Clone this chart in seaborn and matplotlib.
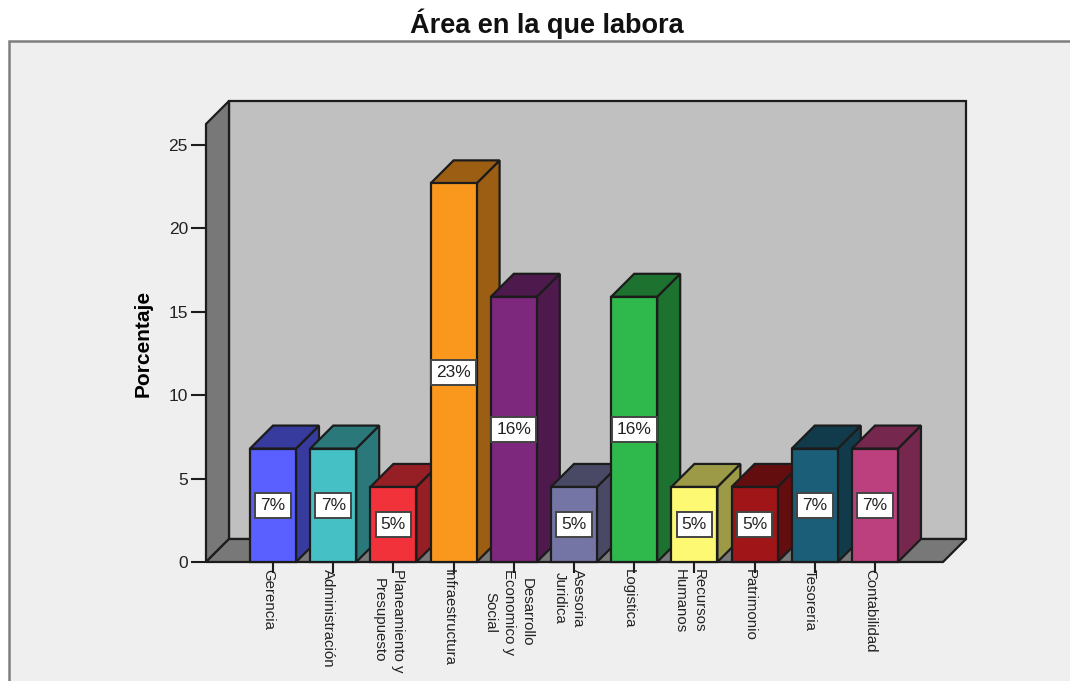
import matplotlib
matplotlib.use("Agg")
import matplotlib.pyplot as plt
import matplotlib.colors as mc
from matplotlib.patches import Polygon, Rectangle
from matplotlib.transforms import ScaledTranslation
import seaborn as sns
import pandas as pd

categories = ["Gerencia", "Administración", "Planeamiento y\nPresupuesto", "Infraestructura",
              "Desarrollo\nEconomico y\nSocial", "Asesoria\nJuridica", "Logistica",
              "Recursos\nHumanos", "Patrimonio", "Tesoreria", "Contabilidad"]
values = [6.8, 6.8, 4.5, 22.7, 15.9, 4.5, 15.9, 4.5, 4.5, 6.8, 6.8]
labels = ["7%", "7%", "5%", "23%", "16%", "5%", "16%", "5%", "5%", "7%", "7%"]
colors = ["#5A5FFF", "#45C1C6", "#F1323A", "#FA981E", "#7D287C", "#7575A5",
          "#2FB84C", "#FDF972", "#A01518", "#1B5E78", "#BC3F7E"]
yticks = [0, 5, 10, 15, 20, 25]
title = "Área en la que labora"
ylabel = "Porcentaje"

W, H = 1070, 681
sns.set_theme(style="white")
plt.rcParams["font.family"] = ["Liberation Sans", "DejaVu Sans"]
fig = plt.figure(figsize=(W / 100, H / 100), dpi=100, facecolor="white")

# frame panel, running off the right and bottom edges
fig.add_artist(Rectangle((9 / W, 0 - 0.02), 1.05, 1 - 41 / H + 0.02, transform=fig.transFigure,
                         facecolor="#EFEFEF", edgecolor="#7F7F7F", linewidth=1.8, zorder=-5))

ax = fig.add_axes([206 / W, 1 - 562 / H, (943 - 206) / W, (562 - 124) / H])
ax.patch.set_alpha(0)

df = pd.DataFrame({"cat": categories, "val": values})
sns.barplot(data=df, x="cat", y="val", hue="cat", palette=colors, order=categories,
            hue_order=categories, legend=False, dodge=False, width=0.764, saturation=1,
            edgecolor="#1C1C1C", linewidth=1.6, ax=ax)

x0, x1 = -1.113, 11.13
y0, y1 = 0, 26.26
ax.set_xlim(x0, x1)
ax.set_ylim(y0, y1)
dx = 23 / (737 / (x1 - x0))
dy = 23 / (438 / (y1 - y0))

EDGE = "#1C1C1C"
def face(pts, color, z, lw=1.6):
    ax.add_patch(Polygon(pts, closed=True, facecolor=color, edgecolor=EDGE, linewidth=lw,
                         joinstyle="miter", zorder=z, clip_on=False))

bars = [b for b in ax.patches if b.get_height() > 0]
bars.sort(key=lambda b: b.get_x())

# room: back wall, left wall, floor
face([(x0 + dx, dy), (x1 + dx, dy), (x1 + dx, y1 + dy), (x0 + dx, y1 + dy)], "#C0C0C0", 0.5)
face([(x0, 0), (x0, y1), (x0 + dx, y1 + dy), (x0 + dx, dy)], "#787878", 0.6)
face([(x0, 0), (x1, 0), (x1 + dx, dy), (x0 + dx, dy)], "#787878", 0.7)

# bars with side and top faces; later bars overlap earlier ones
for i, bar in enumerate(bars):
    z = 10 + i
    l, w, h = bar.get_x(), bar.get_width(), bar.get_height()
    rgb = mc.to_rgb(colors[i])
    dark = tuple(c * 0.62 for c in rgb)
    face([(l + w, 0), (l + w + dx, dy), (l + w + dx, h + dy), (l + w, h)], dark, z)
    face([(l, h), (l + w, h), (l + w + dx, h + dy), (l + dx, h + dy)], dark, z)
    bar.set_zorder(z + 0.5)
    bar.set_clip_on(False)
    ax.text(l + w / 2, h / 2, labels[i], ha="center", va="center", fontsize=12.5, color="#222222",
            zorder=100, bbox=dict(boxstyle="square,pad=0.3", facecolor="white", edgecolor="#444444", linewidth=1.4))

sns.despine(ax=ax, left=True, bottom=True, top=True, right=True)
ax.set_xlabel("")
ax.set_yticks(yticks)
ax.set_ylabel(ylabel, fontsize=15, fontweight="bold", color="black")
ax.yaxis.set_label_coords((153 - 206) / 737, (562 - 343) / 438)
ax.tick_params(axis="y", length=11, width=1.5, color="#1C1C1C", labelsize=12.5, labelcolor="#222222", pad=2, left=True)
ax.tick_params(axis="x", length=8, width=1.5, color="#1C1C1C", bottom=True, pad=-3)
ax.set_xticks(range(len(categories)))
ax.set_xticklabels(categories, rotation=-90, fontsize=10.8, color="#222222", ha="center", va="top",
                   rotation_mode="default", linespacing=1.4)
shift = ScaledTranslation(-5 / 100, 0, fig.dpi_scale_trans)
for t in ax.get_xticklabels():
    t.set_transform(t.get_transform() + shift)

fig.text(547 / W, 1 - 24 / H, title, ha="center", va="center", fontsize=19.5, fontweight="bold", color="#111111")
fig.savefig("out.png", dpi=100, facecolor="white")
